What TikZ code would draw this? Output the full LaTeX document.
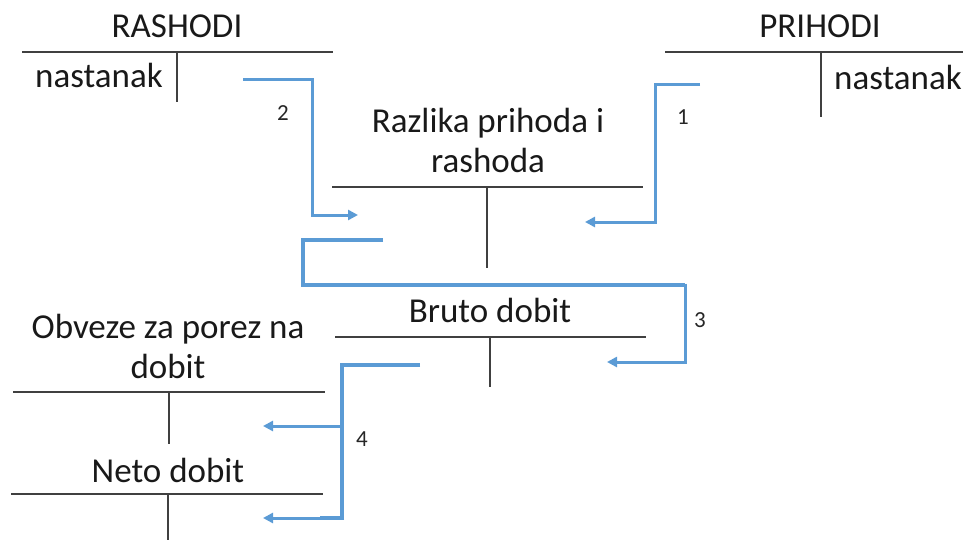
\documentclass[tikz,border=0pt]{standalone}
\usepackage{fontspec}
\setmainfont{Carlito}
\usetikzlibrary{arrows.meta}
\definecolor{flow}{HTML}{5B9BD5}
\definecolor{rulec}{HTML}{404040}
\begin{document}
\begin{tikzpicture}[x=1pt,y=-1pt,
  acct/.style={draw=rulec, line width=1.3pt},
  lbl/.style={font=\fontsize{35}{40}\selectfont, inner sep=0pt, anchor=base, align=center, text=black!90},
  num/.style={font=\fontsize{23}{26}\selectfont, inner sep=0pt, anchor=base, text=black!85},
  flowline/.style={draw=flow, line width=3pt, line join=miter},
  flowthick/.style={draw=flow, line width=4pt, line join=miter},
  tip/.style={-{Triangle[length=10pt,width=10pt]}}
]
\useasboundingbox (0,0) rectangle (963,540);
% T-accounts
\node[lbl] (rashodi) at (177,38) {RASHODI};
\node[lbl,anchor=base west] (nastL) at (35,88) {nastanak};
\draw[acct] (22,52) -- (333,52) (177,52) -- (177,102);

\node[lbl] (prihodi) at (820,38) {PRIHODI};
\node[lbl,anchor=base west] (nastR) at (834,90) {nastanak};
\draw[acct] (665,52) -- (963,52) (821,52) -- (821,117);

\node[lbl] (razlika) at (488,173) {Razlika prihoda i\\rashoda};
\draw[acct] (332,187) -- (643,187) (487,187) -- (487,268);

\node[lbl] (bruto) at (490,322) {Bruto dobit};
\draw[acct] (335,337) -- (646,337) (490,337) -- (490,387);

\node[lbl] (obveze) at (168,378) {Obveze za porez na\\dobit};
\draw[acct] (13,392) -- (325,392) (169,392) -- (169,444);

\node[lbl] (neto) at (168,482) {Neto dobit};
\draw[acct] (11,494) -- (323,494) (168,494) -- (168,540);

% flow coordinates
\coordinate (s2) at (243,80);  \coordinate (e2) at (358,215);
\coordinate (s1) at (700,85);  \coordinate (e1) at (585,222);
\coordinate (s3) at (383,240); \coordinate (e3) at (607,362);
\coordinate (s4) at (420,365); \coordinate (e4a) at (263,426); \coordinate (e4b) at (263,518);

\draw[flowline,tip] (s2) -- (312,80) -- (312,215) -- (e2);
\draw[flowline,tip] (s1) -- (655,85) -- (655,222) -- (e1);
\draw[flowthick] (s3) -- (303,240) -- (303,285) -- (685,285);
\draw[flowline,tip] (685,283.5) -- (685,362) -- (e3);
\draw[flowthick] (s4) -- (342,365) -- (342,518) -- (320,518);
\draw[flowline,tip] (344,518) -- (e4b);
\draw[flowline,tip] (342,426) -- (e4a);

% numbers
\node[num] (n2) at (283,121) {2};
\node[num] (n1) at (683,125) {1};
\node[num] (n3) at (700,327) {3};
\node[num] (n4) at (362,446) {4};
\end{tikzpicture}
\end{document}
